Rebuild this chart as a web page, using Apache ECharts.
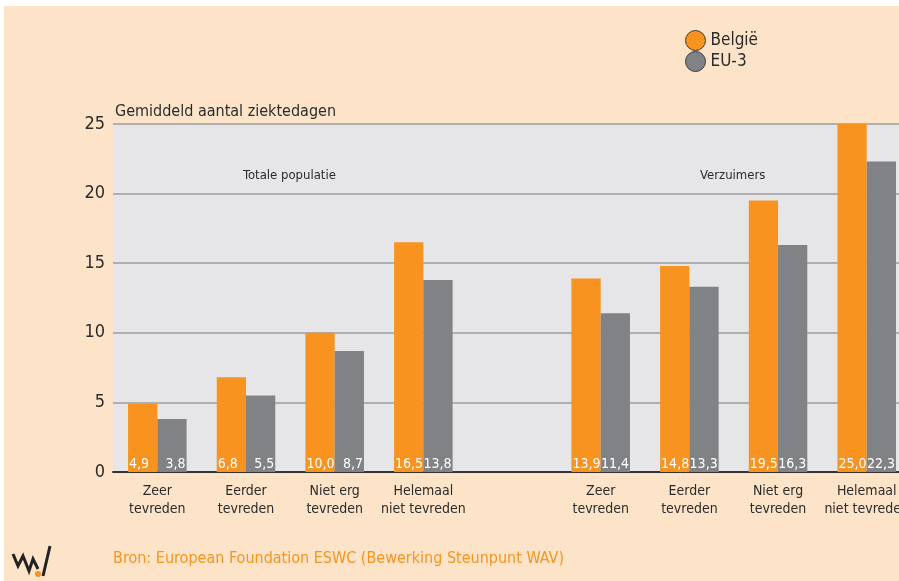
<!DOCTYPE html>
<html>
<head>
<meta charset="utf-8">
<script src="https://cdn.jsdelivr.net/npm/echarts@6/dist/echarts.min.js"></script>
<style>
  html, body { margin: 0; padding: 0; background: #fff; overflow: hidden; width: 899px; height: 581px; }
  /* the plot runs past the right edge in the original, so the canvas is a bit wider than the page */
  #chart { width: 912px; height: 581px; }
</style>
</head>
<body>
<div id="chart"></div>
<script>
// categories (index 4 is the empty gap between the two groups)
var categories = ['Zeer\ntevreden', 'Eerder\ntevreden', 'Niet erg\ntevreden', 'Helemaal\nniet tevreden', '',
  'Zeer\ntevreden', 'Eerder\ntevreden', 'Niet erg\ntevreden', 'Helemaal\nniet tevreden']
var belgie = [4.9, 6.8, 10.0, 16.5, null, 13.9, 14.8, 19.5, 25.0]
var eu3 = [3.8, 5.5, 8.7, 13.8, null, 11.4, 13.3, 16.3, 22.3]
var seriesNames = ['België', 'EU-3']
var yTicks = [0, 5, 10, 15, 20, 25]

var FONT = '"Liberation Sans Narrow", "DejaVu Sans Condensed", "Liberation Sans", sans-serif'
var ORANGE = '#f7931e'
var GREY = '#808285'
var TEXT = '#2b2b2b'

var chart = echarts.init(document.getElementById('chart'))

function valueLabel(p) {
  return p.value == null ? '' : p.value.toFixed(1).replace('.', ',')
}

function barSeries(name, data, color, labelPos) {
  return {
    name: name,
    type: 'bar',
    data: data,
    barGap: 0,
    barCategoryGap: '34%',
    itemStyle: { color: color },
    label: {
      show: true,
      position: labelPos,
      distance: 1,
      color: '#fff',
      fontFamily: FONT,
      fontSize: 14,
      formatter: valueLabel
    },
    animation: false
  }
}

chart.setOption({
  backgroundColor: '#fde4c9',
  textStyle: { fontFamily: FONT },
  grid: {
    left: 113,
    top: 124,
    right: 0,
    height: 348,
    show: true,
    backgroundColor: '#e6e6e8',
    borderWidth: 0
  },
  legend: {
    orient: 'vertical',
    left: 680,
    top: 25,
    itemWidth: 20,
    itemHeight: 20,
    itemGap: 0,
    icon: 'circle',
    itemStyle: { borderColor: '#3a3a3a', borderWidth: 1 },
    textStyle: { fontFamily: FONT, fontSize: 17, color: TEXT },
    data: seriesNames
  },
  xAxis: {
    type: 'category',
    data: categories,
    axisLine: { lineStyle: { color: '#333', width: 2 } },
    axisTick: { show: false },
    axisLabel: {
      color: TEXT,
      fontFamily: FONT,
      fontSize: 14,
      lineHeight: 18,
      margin: 10,
      interval: 0
    }
  },
  yAxis: {
    type: 'value',
    min: yTicks[0],
    max: yTicks[yTicks.length - 1],
    interval: 5,
    axisLine: { show: false },
    axisTick: { show: false },
    axisLabel: { color: TEXT, fontFamily: FONT, fontSize: 18, margin: 8 },
    splitLine: { lineStyle: { color: '#9c9c9c', width: 1.5 } }
  },
  graphic: [
    // white page edges
    { type: 'rect', left: 0, top: 0, shape: { width: 912, height: 6 }, style: { fill: '#fff' }, z: 100 },
    { type: 'rect', left: 0, top: 0, shape: { width: 4, height: 581 }, style: { fill: '#fff' }, z: 100 },
    { type: 'text', left: 115, top: 104, style: { text: 'Gemiddeld aantal ziektedagen', font: '16px ' + FONT, fill: TEXT } },
    { type: 'text', left: 243, top: 169, style: { text: 'Totale populatie', font: '13px ' + FONT, fill: TEXT } },
    { type: 'text', left: 700, top: 169, style: { text: 'Verzuimers', font: '13px ' + FONT, fill: TEXT } },
    { type: 'text', left: 113, top: 551, style: { text: 'Bron: European Foundation ESWC (Bewerking Steunpunt WAV)', font: '16px ' + FONT, fill: ORANGE } },
    // logo
    {
      type: 'polyline',
      shape: { points: [[13, 554], [18, 566], [23, 556], [29, 571], [33, 559], [38, 569]] },
      style: { stroke: '#222', lineWidth: 3, fill: null, lineJoin: 'miter' }
    },
    {
      type: 'polyline',
      shape: { points: [[43, 576], [50, 546]] },
      style: { stroke: '#222', lineWidth: 3, fill: null }
    },
    { type: 'circle', shape: { cx: 38, cy: 574, r: 3 }, style: { fill: ORANGE } }
  ],
  series: [
    barSeries(seriesNames[0], belgie, ORANGE, 'insideBottomLeft'),
    barSeries(seriesNames[1], eu3, GREY, 'insideBottomRight')
  ]
})
</script>
</body>
</html>
